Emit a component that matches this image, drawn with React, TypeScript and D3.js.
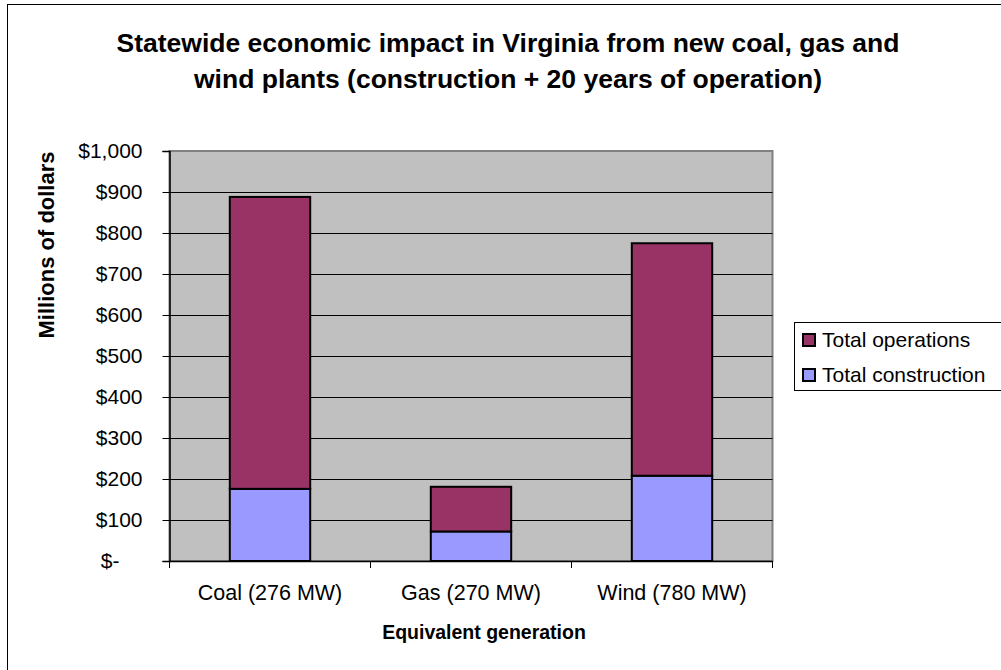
//@ts-nocheck
import * as d3 from "d3";
import { useEffect, useRef } from "react";

const categories = ["Coal (276 MW)", "Gas (270 MW)", "Wind (780 MW)"];
const construction = [176, 72, 208];
const operations = [712, 109, 567];
const seriesNames = ["Total operations", "Total construction"];
const yTicks = [0, 100, 200, 300, 400, 500, 600, 700, 800, 900, 1000];
const titleLines = [
  "Statewide economic impact in Virginia from new coal, gas and",
  "wind plants (construction + 20 years of operation)",
];

const App = () => {
  const ref = useRef(null);

  useEffect(() => {
    const svg = d3.select(ref.current);
    svg.selectAll("*").remove();
    const font = "'Liberation Sans', Arial, sans-serif";

    const left = 169.5, right = 772.5, top = 151, bottom = 561;

    // outer chart border
    svg.append("rect")
      .attr("x", 7.5).attr("y", 4.5)
      .attr("width", 1000).attr("height", 700)
      .attr("fill", "white").attr("stroke", "black").attr("stroke-width", 1);

    const x = d3.scaleBand().domain(categories).range([left, right])
      .paddingInner(0.6).paddingOuter(0.3);
    const y = d3.scaleLinear().domain([0, 1000]).range([bottom, top]);

    // plot area
    svg.append("rect")
      .attr("x", left).attr("y", top)
      .attr("width", right - left).attr("height", bottom - top)
      .attr("fill", "#C0C0C0").attr("stroke", "#808080").attr("stroke-width", 2);

    // gridlines
    svg.append("g").selectAll("line").data(yTicks.slice(1, -1)).enter().append("line")
      .attr("x1", left).attr("x2", right)
      .attr("y1", d => Math.round(y(d)) + 0.5).attr("y2", d => Math.round(y(d)) + 0.5)
      .attr("stroke", "black").attr("stroke-width", 1);

    // stacked bars
    const stackData = categories.map((c, i) => ({ cat: c, construction: construction[i], operations: operations[i] }));
    const stack = d3.stack().keys(["construction", "operations"])(stackData);
    const colors = { construction: "#9999FF", operations: "#993366" };
    stack.forEach(layer => {
      svg.append("g").selectAll("rect").data(layer).enter().append("rect")
        .attr("x", d => x(d.data.cat))
        .attr("width", x.bandwidth())
        .attr("y", d => y(d[1]))
        .attr("height", d => y(d[0]) - y(d[1]))
        .attr("fill", colors[layer.key])
        .attr("stroke", "black").attr("stroke-width", 2);
    });

    // y axis
    const yAxis = svg.append("g")
      .attr("transform", `translate(${left},0)`)
      .call(d3.axisLeft(y).tickValues(yTicks).tickSize(7).tickPadding(20)
        .tickFormat(d => d === 0 ? "$-" : "$" + d3.format(",")(d)));
    yAxis.select(".domain").attr("stroke", "black").attr("stroke-width", 1.5);
    yAxis.selectAll(".tick line").attr("stroke", "black");
    yAxis.selectAll("text").attr("font-family", font).attr("font-size", 21).attr("fill", "black");
    yAxis.selectAll(".tick").filter(d => d === 0).select("text").attr("dx", -23);

    // x axis
    const xAxis = svg.append("g")
      .attr("transform", `translate(0,${bottom})`)
      .call(d3.axisBottom(x).tickSize(0).tickPadding(24));
    xAxis.select(".domain").attr("stroke", "black").attr("stroke-width", 1.5);
    xAxis.selectAll("text").attr("font-family", font).attr("font-size", 21.5).attr("fill", "black");
    const bounds = [0, 1, 2, 3].map(i => left + i * x.step());
    xAxis.selectAll(".bound").data(bounds).enter().append("line")
      .attr("x1", d => d).attr("x2", d => d).attr("y1", 0).attr("y2", 7)
      .attr("stroke", "black");

    // title
    svg.append("text")
      .attr("x", 508).attr("y", 52)
      .attr("text-anchor", "middle").attr("font-family", font)
      .attr("font-size", 26.5).attr("font-weight", "bold")
      .selectAll("tspan").data(titleLines).enter().append("tspan")
      .attr("x", 508).attr("dy", (d, i) => i === 0 ? 0 : 36)
      .text(d => d);

    // axis titles
    svg.append("text")
      .attr("x", 484).attr("y", 639)
      .attr("text-anchor", "middle").attr("font-family", font)
      .attr("font-size", 19.5).attr("font-weight", "bold")
      .text("Equivalent generation");
    svg.append("text")
      .attr("transform", "translate(54,245) rotate(-90)")
      .attr("text-anchor", "middle").attr("font-family", font)
      .attr("font-size", 22).attr("font-weight", "bold")
      .text("Millions of dollars");

    // legend
    const lg = svg.append("g");
    lg.append("rect")
      .attr("x", 794.5).attr("y", 322.5).attr("width", 210).attr("height", 68)
      .attr("fill", "white").attr("stroke", "black").attr("stroke-width", 1);
    const legendColors = [colors.operations, colors.construction];
    seriesNames.forEach((name, i) => {
      lg.append("rect")
        .attr("x", 803).attr("y", 334 + i * 35).attr("width", 12).attr("height", 12)
        .attr("fill", legendColors[i]).attr("stroke", "black").attr("stroke-width", 2);
      lg.append("text")
        .attr("x", 822).attr("y", 347 + i * 35)
        .attr("font-family", font).attr("font-size", 21)
        .text(name);
    });
  }, []);

  return (
    <svg ref={ref} width={1001} height={670}
      style={{ position: "absolute", left: 0, top: 0, display: "block" }} />
  );
};

export default App;
